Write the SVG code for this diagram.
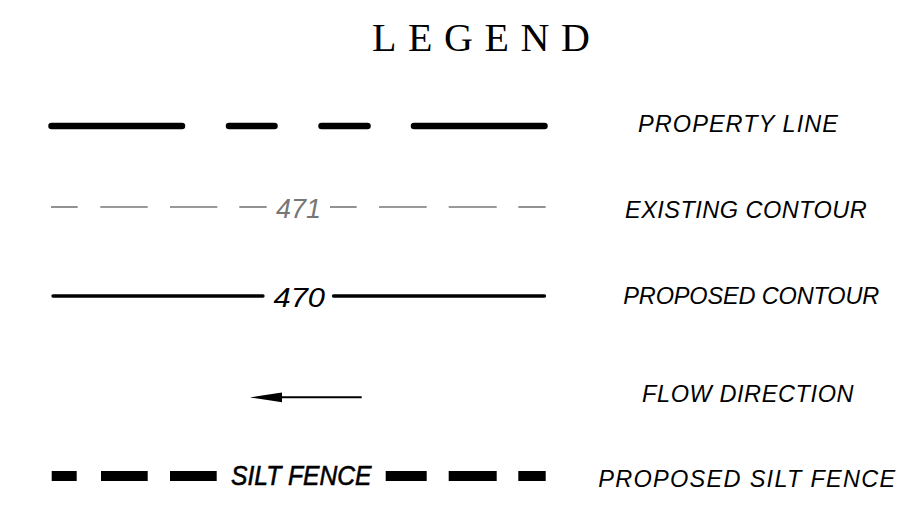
<svg xmlns="http://www.w3.org/2000/svg" width="898" height="508" viewBox="0 0 898 508">
  <style>
    .lbl { font-family: "Liberation Sans", Arial, sans-serif; font-style: italic; font-size: 23.5px; fill: #000; }
    .num { font-family: "Liberation Sans", Arial, sans-serif; font-style: italic; font-size: 28px; }
    .title { font-family: "Liberation Serif", "Times New Roman", serif; font-size: 40px; fill: #000; }
    .prop { stroke: #000; stroke-width: 6.5; stroke-linecap: round; fill: none; }
    .exist { stroke: #777; stroke-width: 1.6; fill: none; }
    .propc { stroke: #000; stroke-width: 3.3; stroke-linecap: round; fill: none; }
    .silt { fill: #000; }
  </style>
  <defs>
    <marker id="arrowhead" markerWidth="16" markerHeight="5" refX="0" refY="2.5" orient="auto" markerUnits="userSpaceOnUse" viewBox="0 0 16 5"/>
  </defs>
  <rect width="898" height="508" fill="#fff"/>

  <g id="title">
    <text class="title" x="372" y="50.7" textLength="218" lengthAdjust="spacing">LEGEND</text>
  </g>

  <g id="property-line">
    <line class="prop" x1="51.5" y1="126" x2="182" y2="126"/>
    <line class="prop" x1="229" y1="126" x2="274.5" y2="126"/>
    <line class="prop" x1="321.5" y1="126" x2="367.5" y2="126"/>
    <line class="prop" x1="414" y1="126" x2="544.5" y2="126"/>
    <text class="lbl" x="638" y="131.7" textLength="200" lengthAdjust="spacing">PROPERTY LINE</text>
  </g>

  <g id="existing-contour">
    <line class="exist" x1="51" y1="207" x2="77.7" y2="207"/>
    <line class="exist" x1="100.3" y1="207" x2="147.7" y2="207"/>
    <line class="exist" x1="170" y1="207" x2="217.3" y2="207"/>
    <line class="exist" x1="239.3" y1="207" x2="266.7" y2="207"/>
    <text class="num" x="276" y="217.7" fill="#777" textLength="45" lengthAdjust="spacingAndGlyphs">471</text>
    <line class="exist" x1="330" y1="207" x2="356.7" y2="207"/>
    <line class="exist" x1="379" y1="207" x2="426.7" y2="207"/>
    <line class="exist" x1="448.7" y1="207" x2="496.7" y2="207"/>
    <line class="exist" x1="518.3" y1="207" x2="545.7" y2="207"/>
    <text class="lbl" x="625" y="218.3" textLength="241.7" lengthAdjust="spacing">EXISTING CONTOUR</text>
  </g>

  <g id="proposed-contour">
    <line class="propc" x1="53" y1="296" x2="263" y2="296"/>
    <text class="num" x="273.5" y="306.5" fill="#000" textLength="51.5" lengthAdjust="spacingAndGlyphs">470</text>
    <line class="propc" x1="333.5" y1="296" x2="544.5" y2="296"/>
    <text class="lbl" x="623.3" y="304" textLength="256" lengthAdjust="spacing">PROPOSED CONTOUR</text>
  </g>

  <g id="flow-direction">
    <line x1="280" y1="397.3" x2="361.7" y2="397.3" stroke="#000" stroke-width="2"/>
    <path d="M250,397.4 Q266,395 282,392.6 L282,402.2 Q266,399.8 250,397.4 Z" fill="#000"/>
    <text class="lbl" x="642" y="401.7" textLength="211.5" lengthAdjust="spacing">FLOW DIRECTION</text>
  </g>

  <g id="silt-fence">
    <rect class="silt" x="51.7" y="471" width="25" height="10"/>
    <rect class="silt" x="101" y="471" width="46.7" height="10"/>
    <rect class="silt" x="170" y="471" width="46.7" height="10"/>
    <text x="231" y="485" font-family="Liberation Sans, Arial, sans-serif" font-style="italic" font-size="27" fill="#000" stroke="#000" stroke-width="0.6" textLength="140.5" lengthAdjust="spacingAndGlyphs">SILT FENCE</text>
    <rect class="silt" x="385.7" y="471" width="41" height="10"/>
    <rect class="silt" x="448.7" y="471" width="48" height="10"/>
    <rect class="silt" x="518.3" y="471" width="27.4" height="10"/>
    <text class="lbl" x="598.3" y="487" textLength="297" lengthAdjust="spacing">PROPOSED SILT FENCE</text>
  </g>
</svg>
